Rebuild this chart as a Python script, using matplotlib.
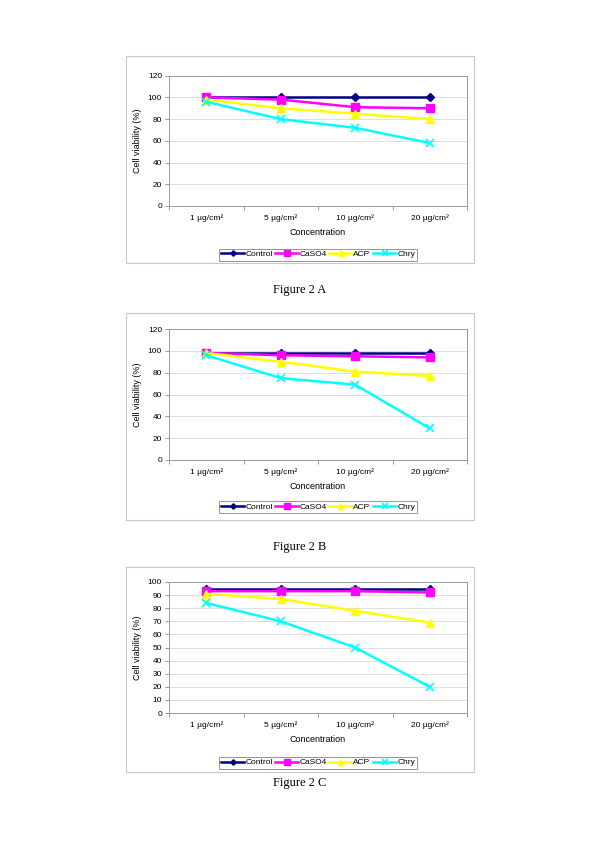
import matplotlib
matplotlib.use("Agg")
import matplotlib.pyplot as plt
from matplotlib.patches import Rectangle

plt.rcParams['font.family'] = ['Liberation Sans', 'DejaVu Sans']

categories = ["1 µg/cm²", "5 µg/cm²", "10 µg/cm²", "20 µg/cm²"]
series_names = ["Control", "CaSO4", "ACP", "Chry"]

a_control = [100, 100, 100, 100]
a_caso4 = [100, 98, 91, 90]
a_acp = [98, 90, 85, 80]
a_chry = [96, 80, 72, 58]

b_control = [98, 98, 98, 98]
b_caso4 = [98, 96, 95, 94]
b_acp = [98, 90, 81, 77]
b_chry = [96, 75, 69, 29]

c_control = [95, 95, 95, 95]
c_caso4 = [93, 93, 93, 92]
c_acp = [91, 87, 78, 69]
c_chry = [84, 70, 50, 20]

a_yticks = [0, 20, 40, 60, 80, 100, 120]
b_yticks = [0, 20, 40, 60, 80, 100, 120]
c_yticks = [0, 10, 20, 30, 40, 50, 60, 70, 80, 90, 100]

captions = ["Figure 2 A", "Figure 2 B", "Figure 2 C"]

styles = [
    dict(color="#000080", marker="D", ms=4.0, mfc="#000080", mec="#000080"),
    dict(color="#FF00FF", marker="s", ms=5.5, mfc="#FF00FF", mec="#FF00FF"),
    dict(color="#FFFF00", marker="^", ms=6.0, mfc="#FFFF00", mec="#FFFF00"),
    dict(color="#00FFFF", marker="x", ms=6.0, mew=1.2, mfc="#00FFFF", mec="#00FFFF"),
]

W, H = 600, 849
fig = plt.figure(figsize=(W / 100, H / 100), dpi=100)


def fx(px):
    return px / W


def fy(py):
    return 1 - py / H


panels = [
    dict(data=[a_control, a_caso4, a_acp, a_chry], yticks=a_yticks,
         box=(126, 56, 474, 263), plot=(169, 75.7, 467, 206),
         legend_y=254.5, caption_y=290),
    dict(data=[b_control, b_caso4, b_acp, b_chry], yticks=b_yticks,
         box=(126, 313, 474, 520), plot=(169, 329, 467, 460),
         legend_y=507, caption_y=547),
    dict(data=[c_control, c_caso4, c_acp, c_chry], yticks=c_yticks,
         box=(126, 567, 474, 772), plot=(169, 582, 467, 713),
         legend_y=762.5, caption_y=783),
]

for p in panels:
    x0, y0, x1, y1 = p["box"]
    fig.patches.append(Rectangle((fx(x0), fy(y1)), fx(x1) - fx(x0), fy(y0) - fy(y1),
                                 transform=fig.transFigure, fill=False,
                                 edgecolor="#c8c8c8", linewidth=0.8))
    px0, py0, px1, py1 = p["plot"]
    ax = fig.add_axes([fx(px0), fy(py1), fx(px1) - fx(px0), fy(py0) - fy(py1)])
    xs = list(range(len(categories)))
    for vals, name, st in zip(p["data"], series_names, styles):
        ax.plot(xs, vals, label=name, linewidth=1.8, **st)
    ax.set_xlim(-0.5, len(categories) - 0.5)
    ax.set_ylim(p["yticks"][0], p["yticks"][-1])
    ax.set_yticks(p["yticks"])
    ax.set_xticks(xs)
    ax.set_xticklabels(categories)
    ax.set_xticks([i - 0.5 for i in range(len(categories) + 1)], minor=True)
    ax.tick_params(axis="x", which="major", length=0, labelsize=6, pad=6)
    ax.tick_params(axis="x", which="minor", length=3, color="#888888", width=0.6)
    ax.tick_params(axis="y", length=3, color="#888888", width=0.6, labelsize=6, pad=2)
    ax.grid(axis="y", color="#d9d9d9", linewidth=0.6)
    ax.set_axisbelow(True)
    for s in ax.spines.values():
        s.set_color("#9a9a9a")
        s.set_linewidth(0.7)
    ax.set_xlabel("Concentration", fontsize=6.5, labelpad=4)
    ax.set_ylabel("Cell viability (%)", fontsize=6.5, labelpad=4)
    leg = fig.legend(*ax.get_legend_handles_labels(), loc="center",
                     bbox_to_anchor=(fx(318), fy(p["legend_y"])), ncol=4,
                     fontsize=6, frameon=True, fancybox=False,
                     handlelength=2.8, handletextpad=0.1, columnspacing=0.3,
                     borderpad=0.25, borderaxespad=0, markerscale=0.7)
    leg.get_frame().set_edgecolor("#666666")
    leg.get_frame().set_linewidth(0.6)

for p, cap in zip(panels, captions):
    fig.text(0.5, fy(p["caption_y"]), cap, ha="center", va="center",
             fontsize=9, family="Liberation Serif")

fig.savefig("out.png", dpi=100, facecolor="white")
